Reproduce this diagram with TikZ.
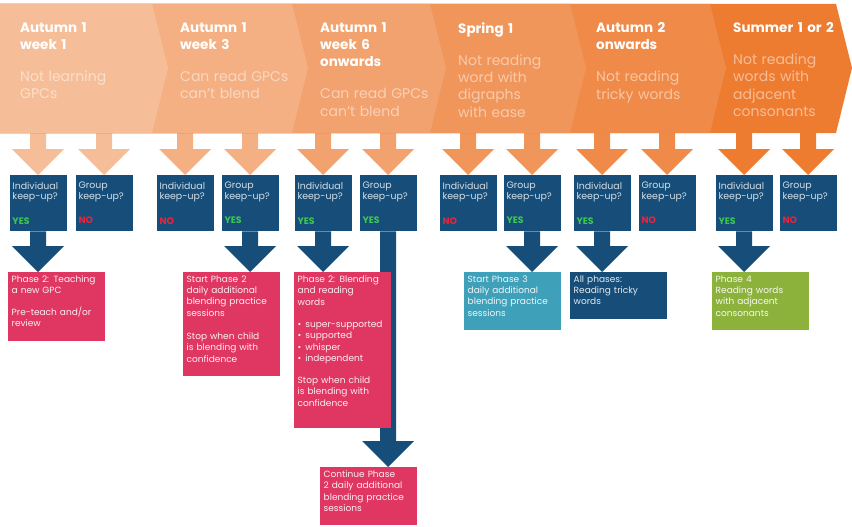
\documentclass[tikz,border=0pt]{standalone}
\usepackage{fontspec}
\setmainfont{Poppins}
\usepackage{tikz}
\usetikzlibrary{calc,backgrounds}
\definecolor{navy}{RGB}{22,78,121}
\definecolor{rose}{RGB}{224,55,98}
\definecolor{sky}{RGB}{62,160,185}
\definecolor{leaf}{RGB}{140,178,60}
\definecolor{yesgreen}{RGB}{60,200,80}
\definecolor{nored}{RGB}{235,35,60}
\definecolor{segA}{RGB}{246,190,152}
\definecolor{segB}{RGB}{244,176,130}
\definecolor{segC}{RGB}{242,162,110}
\definecolor{segD}{RGB}{241,150,90}
\definecolor{segE}{RGB}{240,138,72}
\definecolor{segF}{RGB}{238,124,48}
\newcommand{\nohyph}{\hyphenpenalty=10000\relax\exhyphenpenalty=10000\relax}
\tikzset{
  stage/.style={anchor=north west,inner sep=0pt,text width=130pt,align=left,text=white,font=\fontsize{13.5}{17.3}\selectfont},
  keepbox/.style={fill=navy,anchor=north,minimum width=57pt,minimum height=56pt,text width=51pt,inner sep=3pt,align=left,text=white!82!navy,font=\fontsize{9.4}{10.5}\selectfont},
  phase/.style={fill=rose,anchor=north west,text width=90pt,inner sep=3.5pt,align=left,text=white!92!rose,font=\fontsize{9}{11.3}\selectfont,execute at begin node={\nohyph},execute at end node={\par\vspace{10pt}}},
  skyphase/.style={phase,fill=sky,text=white!92!sky},
  navyphase/.style={phase,fill=navy,text=white!88!navy},
  leafphase/.style={phase,fill=leaf,text=white!92!leaf},
}
\newcommand{\keepyes}{{\bfseries\color{yesgreen}YES}}
\newcommand{\keepno}{{\bfseries\color{nored}NO}}
\newcommand{\desc}[2]{{\fontsize{14}{17.3}\selectfont\color{white!50!#1}#2}}
\newcommand{\blockarr}[3]{\fill[#1] let \p1=(#2), \p2=(#3) in
  (\x1-8pt,\y1) -- (\x1+8pt,\y1) -- (\x1+8pt,\y2+26pt) -- (\x1+26pt,\y2+26pt)
  -- (\x1,\y2) -- (\x1-26pt,\y2+26pt) -- (\x1-8pt,\y2+26pt) -- cycle;}

\begin{document}
\begin{tikzpicture}[x=1pt,y=-1pt]
  \useasboundingbox (0,0) rectangle (852,527);
  % banner, last segment first
  \foreach \c/\r in {segF/836,segE/710,segD/570,segC/430,segB/292,segA/152}
    \fill[\c] (0,4) -- (\r,4) -- (\r+16,68) -- (\r,133) -- (0,133) -- cycle;
  \coordinate (ban) at (0,133);

  \node[stage] (s1) at (20,22) {\textbf{Autumn 1\\week 1}\\[15pt]\desc{segA}{Not learning\\GPCs}};
  \node[stage] (s2) at (180,22) {\textbf{Autumn 1\\week 3}\\[15pt]\desc{segB}{Can read GPCs\\can't blend}};
  \node[stage] (s3) at (320,22) {\textbf{Autumn 1\\week 6\\onwards}\\[15pt]\desc{segC}{Can read GPCs\\can't blend}};
  \node[stage] (s4) at (458,22) {\textbf{Spring 1}\\[15pt]\desc{segD}{Not reading\\word with\\digraphs\\with ease}};
  \node[stage] (s5) at (596,22) {\textbf{Autumn 2\\onwards}\\[15pt]\desc{segE}{Not reading\\tricky words}};
  \node[stage] (s6) at (733,22) {\textbf{Summer 1 or 2}\\[15pt]\desc{segF}{Not reading\\words with\\adjacent\\consonants}};

  \node[keepbox] (k1) at (38,175) {Individual\\keep-up?\\[14pt]\keepyes};
  \node[keepbox] (k2) at (104,175) {Group\\keep-up?\\[14pt]\keepno};
  \node[keepbox] (k3) at (185,175) {Individual\\keep-up?\\[14pt]\keepno};
  \node[keepbox] (k4) at (250,175) {Group\\keep-up?\\[14pt]\keepyes};
  \node[keepbox] (k5) at (323,175) {Individual\\keep-up?\\[14pt]\keepyes};
  \node[keepbox] (k6) at (388,175) {Group\\keep-up?\\[14pt]\keepyes};
  \node[keepbox] (k7) at (468,175) {Individual\\keep-up?\\[14pt]\keepno};
  \node[keepbox] (k8) at (532,175) {Group\\keep-up?\\[14pt]\keepyes};
  \node[keepbox] (k9) at (602,175) {Individual\\keep-up?\\[14pt]\keepyes};
  \node[keepbox] (k10) at (667,175) {Group\\keep-up?\\[14pt]\keepno};
  \node[keepbox] (k11) at (744,175) {Individual\\keep-up?\\[14pt]\keepyes};
  \node[keepbox] (k12) at (808,175) {Group\\keep-up?\\[14pt]\keepno};

  \node[phase] (p1) at (8,272) {Phase 2: Teaching\\a new GPC\\[10.5pt]Pre-teach and/or\\review};
  \node[phase] (p2) at (183,272) {Start Phase 2\\daily additional\\blending practice\\sessions\\[12pt]Stop when child\\is blending with\\confidence};
  \node[phase] (p3) at (294,272) {Phase 2: Blending\\and reading\\words\\[11pt]\textbullet\hspace{4pt}super-supported\\\textbullet\hspace{4pt}supported\\\textbullet\hspace{4pt}whisper\\\textbullet\hspace{4pt}independent\\[11pt]Stop when child\\is blending with\\confidence\par\vspace{8pt}};
  \node[phase] (p4) at (320,467) {Continue Phase\\2 daily additional\\blending practice\\sessions};
  \node[skyphase] (t1) at (464,272) {Start Phase 3\\daily additional\\blending practice\\sessions};
  \node[navyphase] (a1) at (570,272) {All phases:\\Reading tricky\\words};
  \node[leafphase] (g1) at (712,272) {Phase 4\\Reading words\\with adjacent\\consonants};

  \begin{scope}[on background layer]
    \blockarr{segA}{k1.north |- ban}{k1.north}
    \blockarr{segA}{k2.north |- ban}{k2.north}
    \blockarr{segB}{k3.north |- ban}{k3.north}
    \blockarr{segB}{k4.north |- ban}{k4.north}
    \blockarr{segC}{k5.north |- ban}{k5.north}
    \blockarr{segC}{k6.north |- ban}{k6.north}
    \blockarr{segD}{k7.north |- ban}{k7.north}
    \blockarr{segD}{k8.north |- ban}{k8.north}
    \blockarr{segE}{k9.north |- ban}{k9.north}
    \blockarr{segE}{k10.north |- ban}{k10.north}
    \blockarr{segF}{k11.north |- ban}{k11.north}
    \blockarr{segF}{k12.north |- ban}{k12.north}
    \blockarr{navy}{k1.south}{k1.south |- p1.north}
    \blockarr{navy}{k4.south}{k4.south |- p2.north}
    \blockarr{navy}{k5.south}{k5.south |- p3.north}
    \blockarr{navy}{k6.south}{k6.south |- p4.north}
    \blockarr{navy}{k8.south}{k8.south |- t1.north}
    \blockarr{navy}{k9.south}{k9.south |- a1.north}
    \blockarr{navy}{k11.south}{k11.south |- g1.north}
  \end{scope}
\end{tikzpicture}
\end{document}
